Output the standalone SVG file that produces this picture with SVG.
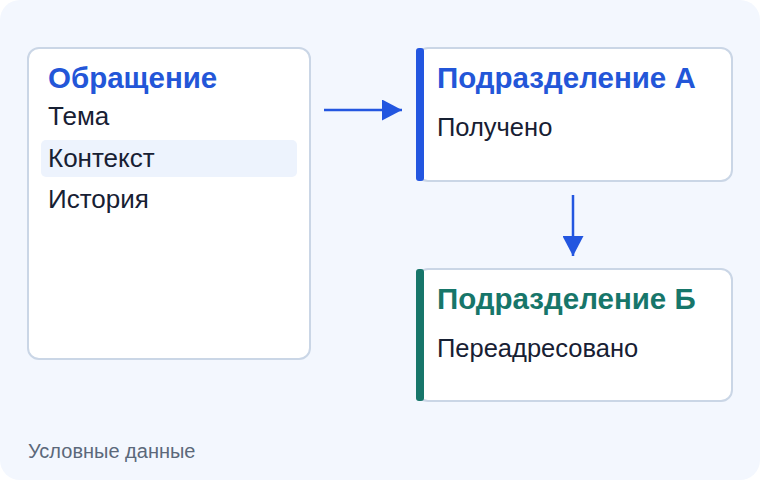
<svg xmlns="http://www.w3.org/2000/svg" width="760" height="480" viewBox="0 0 760 480">
<defs>
<style>
.card{fill:#ffffff;stroke:#cad6e6;stroke-width:2}
.title{font-family:"Liberation Sans",Arial,sans-serif;font-weight:bold;font-size:29.5px}
.item{font-family:"Liberation Sans",Arial,sans-serif;font-size:26px;fill:#172033}
.sub{font-family:"Liberation Sans",Arial,sans-serif;font-size:25.5px;fill:#172033}
.edge{stroke:#2356e0;stroke-width:2.5;fill:none}
</style>
<marker id="ah" viewBox="0 0 10 10" refX="10" refY="5" markerWidth="20" markerHeight="21" markerUnits="userSpaceOnUse" orient="auto" preserveAspectRatio="none">
<path d="M0,0 L10,5 L0,10 z" fill="#2356e0"/>
</marker>
</defs>
<rect x="0" y="0" width="760" height="480" rx="20" fill="#f3f7fe"/>
<g id="node-obrashchenie">
<rect class="card" x="28" y="48" width="282" height="311" rx="11"/>
<rect x="41" y="140" width="256" height="37" rx="5" fill="#edf3fd"/>
<text class="title" x="48" y="88" fill="#2356d8">Обращение</text>
<text class="item" x="48" y="125">Тема</text>
<text class="item" x="48" y="167">Контекст</text>
<text class="item" x="48" y="208">История</text>
</g>
<g id="node-a">
<rect class="card" x="417" y="48" width="315" height="133" rx="11"/>
<rect x="416" y="48" width="8" height="133" rx="3" fill="#2356e0"/>
<text class="title" x="437" y="88" fill="#2356d8">Подразделение А</text>
<text class="sub" x="437" y="136">Получено</text>
</g>
<g id="node-b">
<rect class="card" x="417" y="269" width="315" height="132" rx="11"/>
<rect x="416" y="269" width="8" height="132" rx="3" fill="#17766a"/>
<text class="title" x="437" y="309" fill="#17766a">Подразделение Б</text>
<text class="sub" x="437" y="357">Переадресовано</text>
</g>
<g id="connectors">
<line class="edge" x1="324" y1="110" x2="402" y2="110" marker-end="url(#ah)"/>
<line class="edge" x1="573" y1="195" x2="573" y2="256" marker-end="url(#ah)"/>
</g>
<text x="28" y="458" font-family="Liberation Sans,Arial,sans-serif" font-size="20" fill="#5b687a">Условные данные</text>
</svg>
